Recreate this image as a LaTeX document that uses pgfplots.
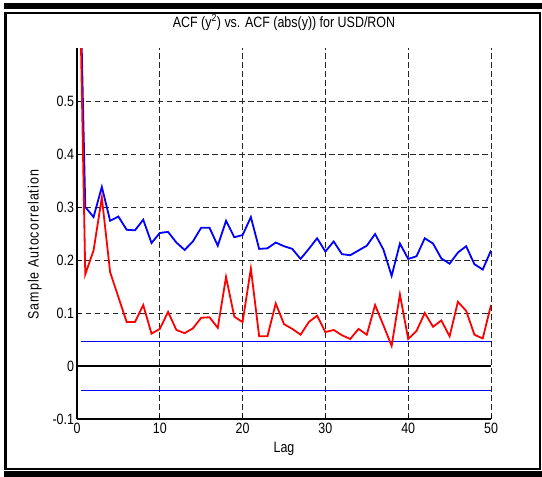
\documentclass[border=0pt]{standalone}
\usepackage{fontspec}
\setmainfont{Liberation Sans}
\usepackage{graphicx}
\usepackage{pgfplots}
\pgfplotsset{compat=1.18}
\newcommand\T[1]{\scalebox{1}[1.2]{#1}}
\begin{document}
\begin{tikzpicture}
\path[use as bounding box] (-77bp,-58bp) rectangle (465bp,419bp);
\fill[black] (-73bp,409.7bp) rectangle (465bp,416.3bp);
\fill[black] (-73bp,-51.7bp) rectangle (465bp,-57.7bp);
\fill[black] (-73bp,407bp) rectangle (-69.7bp,-50.7bp);
\fill[black] (-73bp,407bp) rectangle (463.7bp,405bp);
\fill[black] (462bp,407bp) rectangle (463.7bp,-50.7bp);
\fill[black] (-73bp,-49bp) rectangle (463.7bp,-50.7bp);
\begin{axis}[
  at={(0,0)}, anchor=south west,
  scale only axis, width=414bp, height=371bp,
  xmin=0, xmax=50, ymin=-0.1, ymax=0.6,
  axis x line*=bottom, axis y line*=left,
  axis line style={black, line width=1.2bp},
  xtick={0,10,20,30,40,50},
  xticklabels={\T{0},\T{10},\T{20},\T{30},\T{40},\T{50}},
  ytick={-0.1,0,0.1,0.2,0.3,0.4,0.5},
  yticklabels={\T{-0.1},\T{0},\T{0.1},\T{0.2},\T{0.3},\T{0.4},\T{0.5}},
  tick align=inside, major tick length=4bp,
  tick style={black, line width=0.8bp},
  xmajorgrids, ymajorgrids,
  grid style={black!85, line width=0.9bp, dash pattern=on 5.5bp off 3.5bp},
  font=\fontsize{12.5}{15}\selectfont,
  tick label style={font=\fontsize{12.5}{15}\selectfont},
  xticklabel style={yshift=-1bp},
  yticklabel style={xshift=0.5bp},
  title={\T{ACF (y\textsuperscript{2}) vs. ACF (abs(y)) for USD/RON}},
  title style={at={(axis description cs:0.5,1.053)}, anchor=center},
  xlabel={\T{Lag}},
  xlabel style={at={(axis description cs:0.5,-0.081)}, anchor=center},
  ylabel={\scalebox{1}[1.2]{\addfontfeatures{LetterSpace=8}Sample Autocorrelation}},
  ylabel style={at={(axis description cs:-0.102,0.47)}, anchor=center, rotate=0},
]
\addplot[black, line width=1.3bp] coordinates {(0,0) (50,0)};
\addplot[blue, line width=1.6bp] coordinates {(0.5,0.0465) (50,0.0465)};
\addplot[blue, line width=1.1bp] coordinates {(0.5,-0.0455) (50,-0.0455)};
\addplot[blue, line width=1.8bp] table {
0 1
1 0.300
2 0.281
3 0.338
4 0.274
5 0.282
6 0.257
7 0.256
8 0.276
9 0.232
10 0.251
11 0.253
12 0.233
13 0.219
14 0.235
15 0.261
16 0.261
17 0.227
18 0.274
19 0.243
20 0.247
21 0.281
22 0.221
23 0.222
24 0.233
25 0.226
26 0.221
27 0.202
28 0.221
29 0.241
30 0.216
31 0.235
32 0.211
33 0.209
34 0.218
35 0.227
36 0.249
37 0.220
38 0.170
39 0.231
40 0.202
41 0.207
42 0.241
43 0.231
44 0.203
45 0.193
46 0.214
47 0.226
48 0.192
49 0.182
50 0.218
};
\addplot[red, line width=1.8bp] table {
0 1
1 0.173
2 0.218
3 0.318
4 0.177
5 0.130
6 0.083
7 0.083
8 0.115
9 0.061
10 0.070
11 0.102
12 0.068
13 0.062
14 0.071
15 0.091
16 0.092
17 0.072
18 0.168
19 0.093
20 0.083
21 0.184
22 0.056
23 0.056
24 0.118
25 0.079
26 0.070
27 0.059
28 0.083
29 0.095
30 0.064
31 0.068
32 0.058
33 0.051
34 0.070
35 0.059
36 0.115
37 0.077
38 0.038
39 0.135
40 0.051
41 0.066
42 0.100
43 0.074
44 0.086
45 0.056
46 0.121
47 0.104
48 0.059
49 0.052
50 0.115
};
\end{axis}
\end{tikzpicture}
\end{document}
